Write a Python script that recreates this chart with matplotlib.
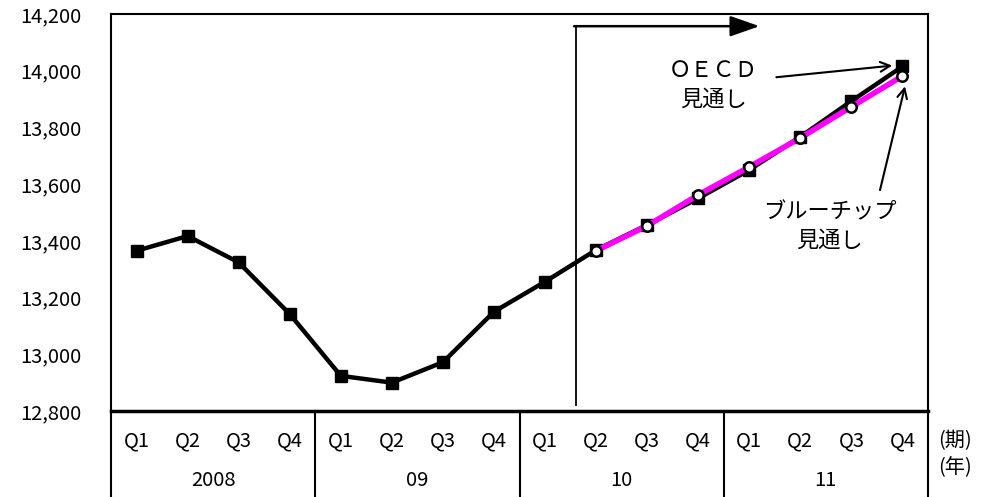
import matplotlib
matplotlib.use("Agg")
import matplotlib.pyplot as plt
from matplotlib.transforms import blended_transform_factory

plt.rcParams['font.family'] = ['Noto Sans CJK JP', 'DejaVu Sans']

# Quarterly GDP level (actual to 2010 Q1, then forecasts)
quarters = ["Q1", "Q2", "Q3", "Q4"] * 4
years = ["2008", "09", "10", "11"]
oecd = [13365, 13417, 13324, 13142, 12924, 12900, 12972, 13150,
        13256, 13368, 13456, 13550, 13650, 13767, 13893, 14015]
bluechip_start = 9
bluechip = [13365, 13453, 13562, 13661, 13763, 13873, 13981]
yticks = [12800, 13000, 13200, 13400, 13600, 13800, 14000, 14200]

W, H = 985, 497
fig = plt.figure(figsize=(W / 100, H / 100), dpi=100)
left, right, top, bottom = 111, 928, 14, 411
ax = fig.add_axes([left / W, 1 - bottom / H, (right - left) / W, (bottom - top) / H])

x = list(range(len(oecd)))
xb = list(range(bluechip_start, bluechip_start + len(bluechip)))

ax.plot(x, oecd, color="black", lw=3.2, marker="s", ms=8.5,
        mfc="black", mec="black", zorder=3, solid_joinstyle="miter")
ax.plot(xb, bluechip, color="#FF00FF", lw=4.0, marker="o", ms=7.5,
        mfc="white", mec="black", mew=1.8, zorder=4)

ax.set_xlim(-0.5, len(oecd) - 0.5)
ax.set_ylim(yticks[0], yticks[-1])
ax.set_xticks([])
ax.set_yticks(yticks)
ax.set_yticklabels([f"{v:,}" for v in yticks], fontsize=14.5)
ax.tick_params(axis="y", length=0, pad=21)
for s in ["left", "right", "top"]:
    ax.spines[s].set_linewidth(1.5)
ax.spines["bottom"].set_linewidth(2.5)

# forecast period marker
ax.plot([8.6, 8.6], [12820, 14157], color="black", lw=1.3, zorder=2)
ax.annotate("", xy=(12.2, 14157), xytext=(8.57, 14157),
            arrowprops=dict(arrowstyle="-|>,head_length=1.0,head_width=0.35",
                            color="black", lw=1.8, shrinkA=0, shrinkB=0,
                            mutation_scale=18))

# callouts
ax.text(11.29, 13950, "ＯＥＣＤ\n見通し", ha="center", va="center",
        fontsize=16, linespacing=1.3)
ax.annotate("", xy=(14.8, 14018), xytext=(12.53, 13977),
            arrowprops=dict(arrowstyle="->,head_length=0.7,head_width=0.35",
                            color="black", lw=1.5, shrinkA=0, shrinkB=0))
ax.text(13.58, 13451, "ブルーチップ\n見通し", ha="center", va="center",
        fontsize=16, linespacing=1.3)
ax.annotate("", xy=(15.05, 13945), xytext=(14.56, 13579),
            arrowprops=dict(arrowstyle="->,head_length=0.7,head_width=0.35",
                            color="black", lw=1.5, shrinkA=0, shrinkB=0))

# category table under the axis
tr = blended_transform_factory(ax.transData, ax.transAxes)
tab_bottom = -(H - bottom + 5) / (bottom - top)
q_y = -(441 - bottom) / (bottom - top)
y_y = -(480 - bottom) / (bottom - top)
for b in [-0.5, 3.5, 7.5, 11.5, 15.5]:
    ax.plot([b, b], [0, tab_bottom], transform=tr, color="black",
            lw=1.5, clip_on=False)
for i, q in enumerate(quarters):
    ax.text(i, q_y, q, transform=tr, ha="center", va="center", fontsize=14.5)
for j, yr in enumerate(years):
    ax.text(4 * j + 1.5, y_y, yr, transform=tr, ha="center", va="center",
            fontsize=14.5)
ax.text(15.7, q_y, "(期)", transform=tr, ha="left", va="center", fontsize=14.5)
ax.text(15.7, -(468 - bottom) / (bottom - top), "(年)", transform=tr,
        ha="left", va="center", fontsize=14.5)

fig.savefig("out.png", dpi=100)
